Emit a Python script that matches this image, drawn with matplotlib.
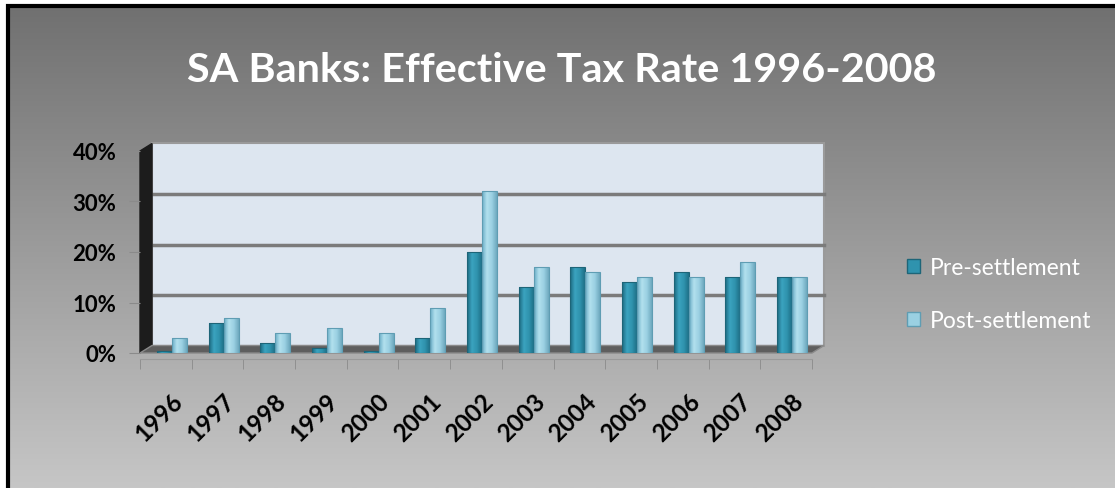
import matplotlib
matplotlib.use("Agg")
import matplotlib.pyplot as plt
import numpy as np
from matplotlib.patches import Rectangle, Polygon, Patch
from matplotlib.colors import LinearSegmentedColormap

plt.rcParams['font.family'] = ['Lato', 'DejaVu Sans']

# dados
anos = ['1996', '1997', '1998', '1999', '2000', '2001', '2002',
        '2003', '2004', '2005', '2006', '2007', '2008']
pre = [0.3, 6, 2, 1, 0.4, 3, 20, 13, 17, 14, 16, 15, 15]
pos = [3, 7, 4, 5, 4, 9, 32, 17, 16, 15, 15, 18, 15]
series = ['Pre-settlement', 'Post-settlement']
yticks = [0, 10, 20, 30, 40]

W, H = 1115, 489
fig = plt.figure(figsize=(W / 100, H / 100), dpi=100)

# fundo em degradê cinza com moldura
bg = fig.add_axes([0, 0, 1, 1], zorder=-10)
grad = np.linspace(0, 1, 256).reshape(-1, 1)
bg.imshow(grad, extent=(0, W, 0, H), aspect='auto', origin='upper',
          cmap=LinearSegmentedColormap.from_list('bg', ['#6f6f6f', '#c6c6c6']))
bg.set_xlim(0, W)
bg.set_ylim(0, H)
bg.axis('off')
bg.add_patch(Rectangle((0, H - 5), W, 5, facecolor='white', zorder=2))
bg.add_patch(Rectangle((0, 0), 6, H, facecolor='white', zorder=2))
bg.plot([7.5, 7.5, W], [0, H - 6.5, H - 6.5], color='black', lw=3, zorder=3,
        solid_joinstyle='miter')

# eixo do plano frontal
ax = fig.add_axes([140 / W, 135 / H, 672 / W, 202 / H])
ax.patch.set_alpha(0)
n = len(anos)
x = np.arange(n)
xmin, xmax = -0.5, n - 0.5
ymax = 40
dx = 12 / (672 / n)
dy = 7.5 / (202 / ymax)

# parede do fundo
ax.add_patch(Rectangle((xmin + dx, dy), xmax - xmin, ymax, facecolor='#dde6f0',
                       edgecolor='#9a9a9a', lw=1.5, zorder=0, clip_on=False))
for g in yticks[1:-1]:
    ax.plot([xmin + dx, xmax + dx], [g + dy, g + dy], color='#7b7b7b', lw=2.5,
            zorder=0.5, clip_on=False)
# parede lateral
ax.add_patch(Polygon([(xmin, 0), (xmin + dx, dy), (xmin + dx, ymax + dy), (xmin, ymax)],
                     closed=True, facecolor='#1c1c1c', edgecolor='#1c1c1c', zorder=1,
                     clip_on=False))
# piso
ax.add_patch(Polygon([(xmin, 0), (xmax, 0), (xmax + dx, dy), (xmin + dx, dy)],
                     closed=True, facecolor='#5e5e5e', edgecolor='#8a8a8a', lw=1,
                     zorder=1, clip_on=False))

cmaps = [LinearSegmentedColormap.from_list('pre', ['#1c6a80', '#3ba3bf', '#2f93ae', '#1f7087']),
         LinearSegmentedColormap.from_list('pos', ['#6aaec6', '#b2e0ee', '#9ad0e2', '#6ea9bf'])]
edges = ['#1d6578', '#5f9db3']
bw = 0.29
hgrad = np.linspace(0, 1, 64).reshape(1, -1)
for s, vals in enumerate([pre, pos]):
    for i, v in enumerate(vals):
        x0 = x[i] + dx / 2 - bw + s * bw
        r = Rectangle((x0, 0), bw, v, facecolor='none', edgecolor=edges[s], lw=0.8,
                      zorder=3)
        ax.add_patch(r)
        im = ax.imshow(hgrad, extent=(x0, x0 + bw, 0, v), aspect='auto',
                       cmap=cmaps[s], zorder=2.9, origin='lower')
        im.set_clip_path(r)

ax.set_xlim(xmin, xmax)
ax.set_ylim(0, ymax)
ax.set_aspect('auto')
for sp in ax.spines.values():
    sp.set_visible(False)
ax.spines['bottom'].set_visible(True)
ax.spines['bottom'].set_color('#9a9a9a')
ax.spines['bottom'].set_position(('outward', 4))

ax.set_yticks(yticks)
ax.set_yticklabels([f'{t}%' for t in yticks], fontsize=16, fontweight='bold')
ax.tick_params(axis='y', length=8, color='#8a8a8a', pad=9)
ax.set_xticks(x + 0.1)
ax.set_xticklabels(anos, rotation=45, ha='right', va='top', fontsize=17.5,
                   fontweight='bold', rotation_mode='anchor')
ax.set_xticks(np.arange(n + 1) - 0.5, minor=True)
ax.tick_params(axis='x', which='major', length=0, pad=22)
ax.tick_params(axis='x', which='minor', length=7, color='#8a8a8a')

titulo = fig.text(562 / W, 1 - 82 / H, 'SA Banks: Effective Tax Rate 1996-2008',
                  ha='center', va='baseline', fontsize=34, fontweight='bold',
                  color='white')
fig.canvas.draw()
larg = titulo.get_window_extent().width
titulo.set_fontsize(34 * 749 / larg)

handles = [Patch(facecolor='#2f93ae', edgecolor=edges[0]),
           Patch(facecolor='#9ad0e2', edgecolor=edges[1])]
fig.legend(handles, series, loc='center left', bbox_to_anchor=(886 / W, 1 - 295 / H),
           frameon=False, labelcolor='white', fontsize=16.5, handlelength=0.6,
           handleheight=0.6, handletextpad=0.4, labelspacing=1.4)

fig.savefig('out.png', dpi=100)
